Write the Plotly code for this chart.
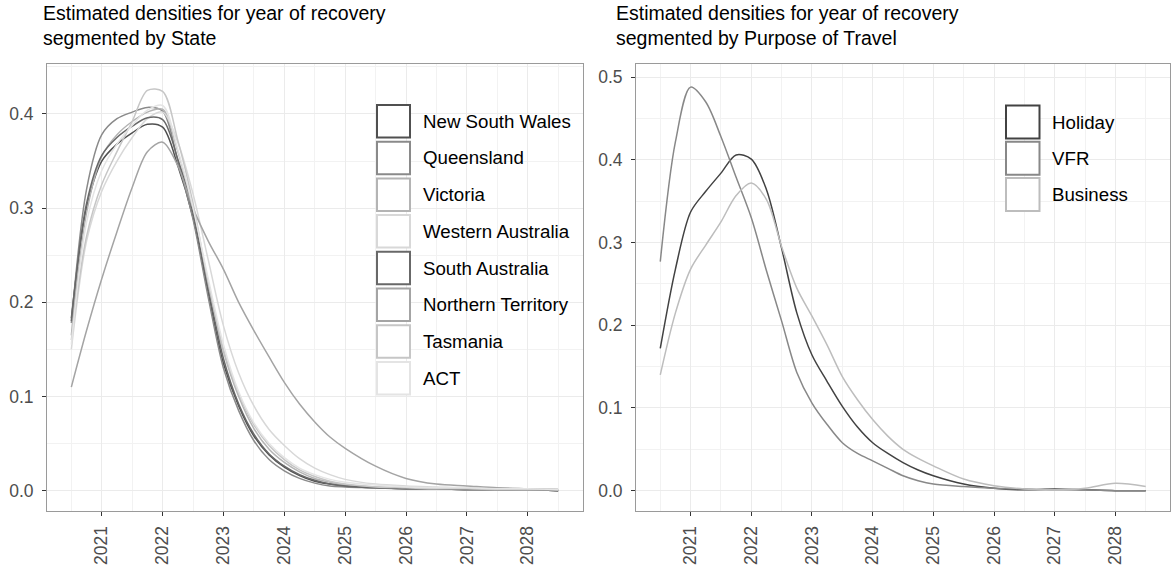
import plotly.graph_objects as go

# Estimated density of the year of recovery, evaluated on a common grid of years
years = [2020.5, 2020.75, 2021.0, 2021.25, 2021.5, 2021.75, 2022.0, 2022.25, 2022.5,
         2022.75, 2023.0, 2023.25, 2023.5, 2023.75, 2024.0, 2024.25, 2024.5, 2024.75,
         2025.0, 2025.5, 2026.0, 2026.5, 2027.0, 2027.5, 2028.0, 2028.5]

states = ["New South Wales", "Queensland", "Victoria", "Western Australia",
          "South Australia", "Northern Territory", "Tasmania", "ACT"]

nsw = [0.183, 0.300, 0.350, 0.368, 0.380, 0.389, 0.386, 0.345, 0.290, 0.210, 0.135, 0.090, 0.058,
       0.038, 0.025, 0.016, 0.010, 0.007, 0.005, 0.003, 0.002, 0.002, 0.002, 0.001, 0.001, 0.000]
qld = [0.178, 0.320, 0.378, 0.395, 0.402, 0.407, 0.403, 0.350, 0.288, 0.205, 0.130, 0.085, 0.053,
       0.033, 0.021, 0.013, 0.008, 0.005, 0.004, 0.003, 0.002, 0.002, 0.001, 0.001, 0.001, 0.000]
vic = [0.165, 0.295, 0.355, 0.378, 0.392, 0.402, 0.405, 0.360, 0.298, 0.220, 0.148, 0.100, 0.066,
       0.044, 0.030, 0.020, 0.013, 0.009, 0.006, 0.004, 0.003, 0.003, 0.002, 0.002, 0.001, 0.001]
wa = [0.150, 0.265, 0.318, 0.350, 0.375, 0.395, 0.402, 0.370, 0.315, 0.245, 0.175, 0.125, 0.090,
      0.065, 0.048, 0.034, 0.024, 0.017, 0.012, 0.007, 0.005, 0.004, 0.003, 0.003, 0.002, 0.002]
sa = [0.180, 0.305, 0.356, 0.375, 0.387, 0.396, 0.394, 0.352, 0.295, 0.215, 0.140, 0.092, 0.060,
      0.039, 0.026, 0.017, 0.011, 0.007, 0.005, 0.003, 0.002, 0.002, 0.001, 0.001, 0.001, 0.000]
nt = [0.110, 0.170, 0.225, 0.275, 0.322, 0.360, 0.370, 0.345, 0.300, 0.265, 0.235, 0.200, 0.170,
      0.142, 0.115, 0.092, 0.073, 0.057, 0.045, 0.026, 0.013, 0.007, 0.005, 0.003, 0.002, 0.001]
tas = [0.160, 0.270, 0.325, 0.360, 0.392, 0.425, 0.424, 0.372, 0.305, 0.220, 0.150, 0.103, 0.070,
       0.048, 0.033, 0.022, 0.015, 0.010, 0.007, 0.004, 0.003, 0.002, 0.002, 0.001, 0.001, 0.001]
act = [0.155, 0.285, 0.340, 0.368, 0.388, 0.404, 0.409, 0.362, 0.300, 0.225, 0.155, 0.105, 0.072,
       0.050, 0.035, 0.024, 0.017, 0.012, 0.009, 0.006, 0.004, 0.003, 0.003, 0.002, 0.002, 0.001]

purposes = ["Holiday", "VFR", "Business"]

holiday = [0.172, 0.268, 0.337, 0.362, 0.384, 0.406, 0.401, 0.364, 0.293, 0.215, 0.164, 0.132, 0.102,
           0.077, 0.058, 0.045, 0.034, 0.025, 0.018, 0.008, 0.003, 0.001, 0.002, 0.001, 0.000, 0.000]
vfr = [0.277, 0.422, 0.488, 0.470, 0.428, 0.379, 0.330, 0.266, 0.205, 0.143, 0.106, 0.080, 0.058,
       0.045, 0.036, 0.027, 0.018, 0.012, 0.008, 0.005, 0.003, 0.002, 0.001, 0.001, 0.000, 0.000]
business = [0.140, 0.215, 0.268, 0.297, 0.325, 0.357, 0.372, 0.352, 0.295, 0.245, 0.211, 0.176, 0.138,
            0.110, 0.086, 0.066, 0.050, 0.039, 0.030, 0.014, 0.006, 0.002, 0.001, 0.003, 0.009, 0.005]

year_ticks = [2021, 2022, 2023, 2024, 2025, 2026, 2027, 2028]

state_series = [nsw, qld, vic, wa, sa, nt, tas, act]
state_colours = ["#505050", "#8a8a8a", "#b4b4b4", "#d8d8d8",
                 "#686868", "#a4a4a4", "#c6c6c6", "#e4e4e4"]
purpose_series = [holiday, vfr, business]
purpose_colours = ["#424242", "#888888", "#bdbdbd"]

W, H = 1174, 572
FONT = "Liberation Sans, Arial, Helvetica, sans-serif"


def fx(p):
    return p / W


def fy(p):
    return 1 - p / H


LEFT_PANEL = (47, 582.5)
RIGHT_PANEL = (636, 1170)
PANEL_TOP, PANEL_BOTTOM = 63.5, 511

fig = go.Figure()

for name, vals, col in zip(states, state_series, state_colours):
    fig.add_trace(go.Scatter(x=years, y=vals, name=name, mode="lines",
                             line=dict(color=col, width=1.5, shape="spline", smoothing=0.9),
                             xaxis="x", yaxis="y", showlegend=False, hoverinfo="skip"))

for name, vals, col in zip(purposes, purpose_series, purpose_colours):
    fig.add_trace(go.Scatter(x=years, y=vals, name=name, mode="lines",
                             line=dict(color=col, width=1.5, shape="spline", smoothing=0.9),
                             xaxis="x2", yaxis="y2", showlegend=False, hoverinfo="skip"))

common = dict(showgrid=True, gridcolor="#ebebeb", gridwidth=1.4, zeroline=False,
              ticks="outside", ticklen=4, tickwidth=1, tickcolor="#333333",
              showline=True, linecolor="#9a9a9a", linewidth=1, mirror=True,
              tickfont=dict(family=FONT, size=17.5, color="#4d4d4d"))

xcommon = dict(common, range=[2020.1, 2028.9], tickvals=year_ticks, ticktext=[str(t) for t in year_ticks],
               tickangle=-90, ticklabelstandoff=3,
               minor=dict(tickvals=[2020.5 + i for i in range(9)], showgrid=True,
                          gridcolor="#f2f2f2", gridwidth=0.8, ticks=""))

ycommon = dict(common, dtick=0.1, tick0=0, tickformat=".1f", ticklabelstandoff=5,
               minor=dict(dtick=0.05, tick0=0, showgrid=True, gridcolor="#f2f2f2", gridwidth=0.8, ticks=""))

ydom = [1 - PANEL_BOTTOM / H, 1 - PANEL_TOP / H]

fig.update_layout(
    width=W, height=H, autosize=False,
    margin=dict(l=0, r=0, t=0, b=0),
    paper_bgcolor="white", plot_bgcolor="white",
    font=dict(family=FONT),
    xaxis=dict(xcommon, domain=[fx(LEFT_PANEL[0]), fx(LEFT_PANEL[1])], anchor="y"),
    yaxis=dict(ycommon, domain=ydom, anchor="x", range=[-0.0216, 0.4536]),
    xaxis2=dict(xcommon, domain=[fx(RIGHT_PANEL[0]), fx(RIGHT_PANEL[1])], anchor="y2"),
    yaxis2=dict(ycommon, domain=ydom, anchor="x2", range=[-0.0246, 0.5166]),
)

annotations = []
shapes = []

# panel titles
for x0, seg in [(41, "State"), (614, "Purpose of Travel")]:
    annotations.append(dict(
        text=f"Estimated densities for year of recovery<br>segmented by {seg}",
        xref="paper", yref="paper", x=fx(x0), y=fy(0), xanchor="left", yanchor="top",
        align="left", showarrow=False, font=dict(family=FONT, size=19.5, color="#000000")))


def add_legend(labels, colours, box_x, box_y, pitch, box_w, box_h, text_x):
    for i, (lab, col) in enumerate(zip(labels, colours)):
        y0 = box_y + i * pitch
        shapes.append(dict(type="rect", xref="paper", yref="paper",
                           x0=fx(box_x), x1=fx(box_x + box_w), y0=fy(y0), y1=fy(y0 + box_h),
                           line=dict(color=col, width=2), fillcolor="white", layer="above"))
        annotations.append(dict(text=lab, xref="paper", yref="paper", x=fx(text_x),
                                y=fy(y0 + box_h / 2), xanchor="left", yanchor="middle",
                                showarrow=False, font=dict(family=FONT, size=18.7, color="#000000")))


add_legend(states, state_colours, 377, 105, 36.7, 33, 32.5, 421)
add_legend(purposes, purpose_colours, 1006, 105.5, 36.2, 33.5, 33, 1050)

fig.update_layout(annotations=annotations, shapes=shapes)

fig.write_html("out.html")
